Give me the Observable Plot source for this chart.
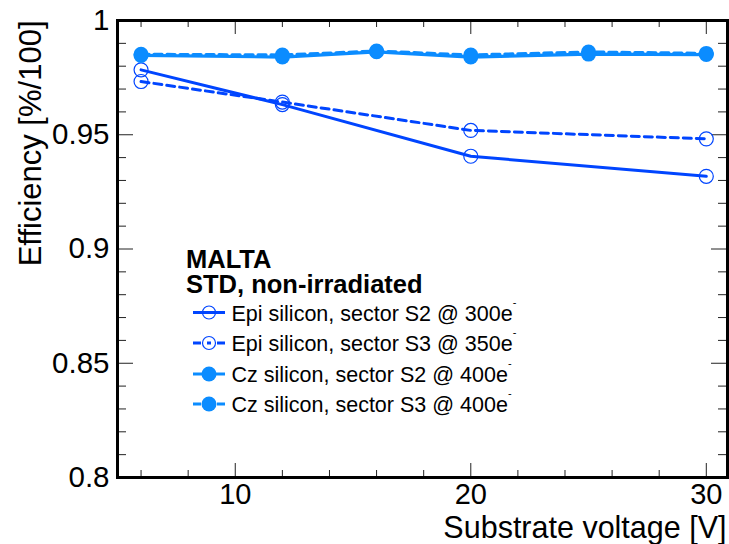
<!DOCTYPE html>
<html><head><meta charset="utf-8">
<script src="https://cdn.jsdelivr.net/npm/d3@7"></script>
<script src="https://cdn.jsdelivr.net/npm/@observablehq/plot@0.6"></script>
<style>
html,body{margin:0;padding:0;background:#fff}
#chart svg{display:block}
</style>
</head><body><div id="chart"></div>
<script>
// ---- data ----
const epiVoltages = [6, 12, 20, 30];
const epiS2 = [0.9784, 0.9632, 0.9406, 0.9318];
const epiS3 = [0.9733, 0.9643, 0.9519, 0.9482];
const czVoltages = [6, 12, 16, 20, 25, 30];
const czS2 = [0.9847, 0.9840, 0.9863, 0.9840, 0.9853, 0.9851];
const czS3 = [0.9852, 0.9849, 0.9866, 0.9849, 0.9862, 0.9856];
const seriesNames = [
  "Epi silicon, sector S2 @ 300e",
  "Epi silicon, sector S3 @ 350e",
  "Cz silicon, sector S2 @ 400e",
  "Cz silicon, sector S3 @ 400e"
];
const legendTitle = ["MALTA", "STD, non-irradiated"];
const yMajorTicks = [0.8, 0.85, 0.9, 0.95, 1.0];
const yTickLabels = ["0.8", "0.85", "0.9", "0.95", "1"];
const yMinorTicks = [0.81,0.82,0.83,0.84,0.86,0.87,0.88,0.89,0.91,0.92,0.93,0.94,0.96,0.97,0.98,0.99];
const xMajorTicks = [10, 20, 30];
const xTickLabels = ["10", "20", "30"];
const xMinorTicks = [6, 8, 12, 14, 16, 18, 22, 24, 26, 28];
const xTitle = "Substrate voltage [V]";
const yTitle = "Efficiency [%/100]";

// ---- styling ----
const epiColor = "#0045ff";
const czColor = "#0b8cff";
const font = "'Liberation Sans', Arial, Helvetica, sans-serif";
const W = 729, H = 544, ML = 117, MR = 2, MT = 20, MB = 67;
const plotW = W - ML - MR, plotH = H - MT - MB;

const rows = (vs, ys, s) => vs.map((v, i) => ({v, eff: ys[i], series: s}));
const epiS2Rows = rows(epiVoltages, epiS2, seriesNames[0]);
const epiS3Rows = rows(epiVoltages, epiS3, seriesNames[1]);
const czS2Rows = rows(czVoltages, czS2, seriesNames[2]);
const czS3Rows = rows(czVoltages, czS3, seriesNames[3]);

const dash = "8,5";
const plot = Plot.plot({
  width: W, height: H,
  marginLeft: ML, marginRight: MR, marginTop: MT, marginBottom: MB,
  style: {fontFamily: font, background: "white", color: "black", overflow: "visible"},
  x: {domain: [5, 30.9]},
  y: {domain: [0.8, 1.0]},
  marks: [
    // inward ticks
    Plot.tickY(yMinorTicks, {y: d => d, insetRight: plotW - 9, stroke: "#222", strokeWidth: 1}),
    Plot.tickY(yMajorTicks, {y: d => d, insetRight: plotW - 16, stroke: "#222", strokeWidth: 1}),
    Plot.tickY(yMinorTicks, {y: d => d, insetLeft: plotW - 9, stroke: "#222", strokeWidth: 1}),
    Plot.tickY(yMajorTicks, {y: d => d, insetLeft: plotW - 16, stroke: "#222", strokeWidth: 1}),
    Plot.tickX(xMinorTicks, {x: d => d, insetTop: plotH - 7, stroke: "#222", strokeWidth: 1}),
    Plot.tickX(xMajorTicks, {x: d => d, insetTop: plotH - 14, stroke: "#222", strokeWidth: 1}),
    Plot.tickX(xMinorTicks, {x: d => d, insetBottom: plotH - 7, stroke: "#222", strokeWidth: 1}),
    Plot.tickX(xMajorTicks, {x: d => d, insetBottom: plotH - 14, stroke: "#222", strokeWidth: 1}),
    Plot.axisY(yMajorTicks, {tickSize: 0, tickPadding: 8, fontSize: 29.5, label: null,
      tickFormat: d => yTickLabels[yMajorTicks.indexOf(d)]}),
    Plot.axisX(xMajorTicks, {tickSize: 0, tickPadding: 6, fontSize: 29, label: null,
      tickFormat: d => xTickLabels[xMajorTicks.indexOf(d)]}),
    Plot.text([yTitle], {text: d => d, frameAnchor: "top-left", rotate: -90, textAnchor: "end",
      lineAnchor: "middle", dx: -86, dy: 0, fontSize: 31, fill: "black"}),
    Plot.text([xTitle], {text: d => d, frameAnchor: "bottom-right", textAnchor: "end",
      lineAnchor: "middle", dx: -1, dy: 50.7, fontSize: 30.5, fill: "black"}),
    // lines
    Plot.line(epiS2Rows, {x: "v", y: "eff", stroke: epiColor, strokeWidth: 3}),
    Plot.line(epiS3Rows, {x: "v", y: "eff", stroke: epiColor, strokeWidth: 3, strokeDasharray: dash}),
    Plot.line(czS2Rows, {x: "v", y: "eff", stroke: czColor, strokeWidth: 3.2}),
    Plot.line(czS3Rows, {x: "v", y: "eff", stroke: czColor, strokeWidth: 3.2, strokeDasharray: dash}),
    // markers
    Plot.dot(epiS2Rows, {x: "v", y: "eff", r: 7, fill: "none", stroke: epiColor, strokeWidth: 1.2}),
    Plot.dot(epiS3Rows, {x: "v", y: "eff", r: 7, fill: "none", stroke: epiColor, strokeWidth: 1.2}),
    Plot.dot(czS2Rows, {x: "v", y: "eff", r: 7.5, fill: czColor, stroke: "none"}),
    Plot.dot(czS3Rows, {x: "v", y: "eff", r: 7.5, fill: czColor, stroke: "none"}),
    Plot.frame({stroke: "black", strokeWidth: 3})
  ]
});
document.getElementById("chart").appendChild(plot);

// ---- legend ----
const svg = d3.select(plot);
const lg = svg.append("g").attr("font-family", font).attr("text-anchor", "start");
lg.selectAll("text.title").data(legendTitle).join("text")
  .attr("x", 186).attr("y", (d, i) => i === 0 ? 267.5 : 293)
  .attr("font-size", 25.5).attr("font-weight", "bold").attr("fill", "black").text(d => d);
const legendStyles = [
  {color: epiColor, dashed: false, filled: false, r: 6.5},
  {color: epiColor, dashed: true, filled: false, r: 6.5},
  {color: czColor, dashed: false, filled: true, r: 7.5},
  {color: czColor, dashed: true, filled: true, r: 7.5}
];
const lineY = [312.5, 343, 374, 404];
const baseY = [320.7, 350.7, 381.7, 411.7];
seriesNames.forEach((name, i) => {
  const st = legendStyles[i];
  lg.append("line").attr("x1", 193).attr("x2", 225).attr("y1", lineY[i]).attr("y2", lineY[i])
    .attr("stroke", st.color).attr("stroke-width", 3)
    .attr("stroke-dasharray", st.dashed ? "8,6,4,6,8" : null);
  lg.append("circle").attr("cx", 209).attr("cy", lineY[i]).attr("r", st.r)
    .attr("fill", st.filled ? st.color : "none")
    .attr("stroke", st.filled ? "none" : st.color).attr("stroke-width", 1.2);
  const t = lg.append("text").attr("x", 231.5).attr("y", baseY[i])
    .attr("font-size", 21.5).attr("fill", "black");
  t.append("tspan").text(name);
  t.append("tspan").attr("font-size", 11).attr("dy", -15).text("-");
});
</script>
</body></html>
